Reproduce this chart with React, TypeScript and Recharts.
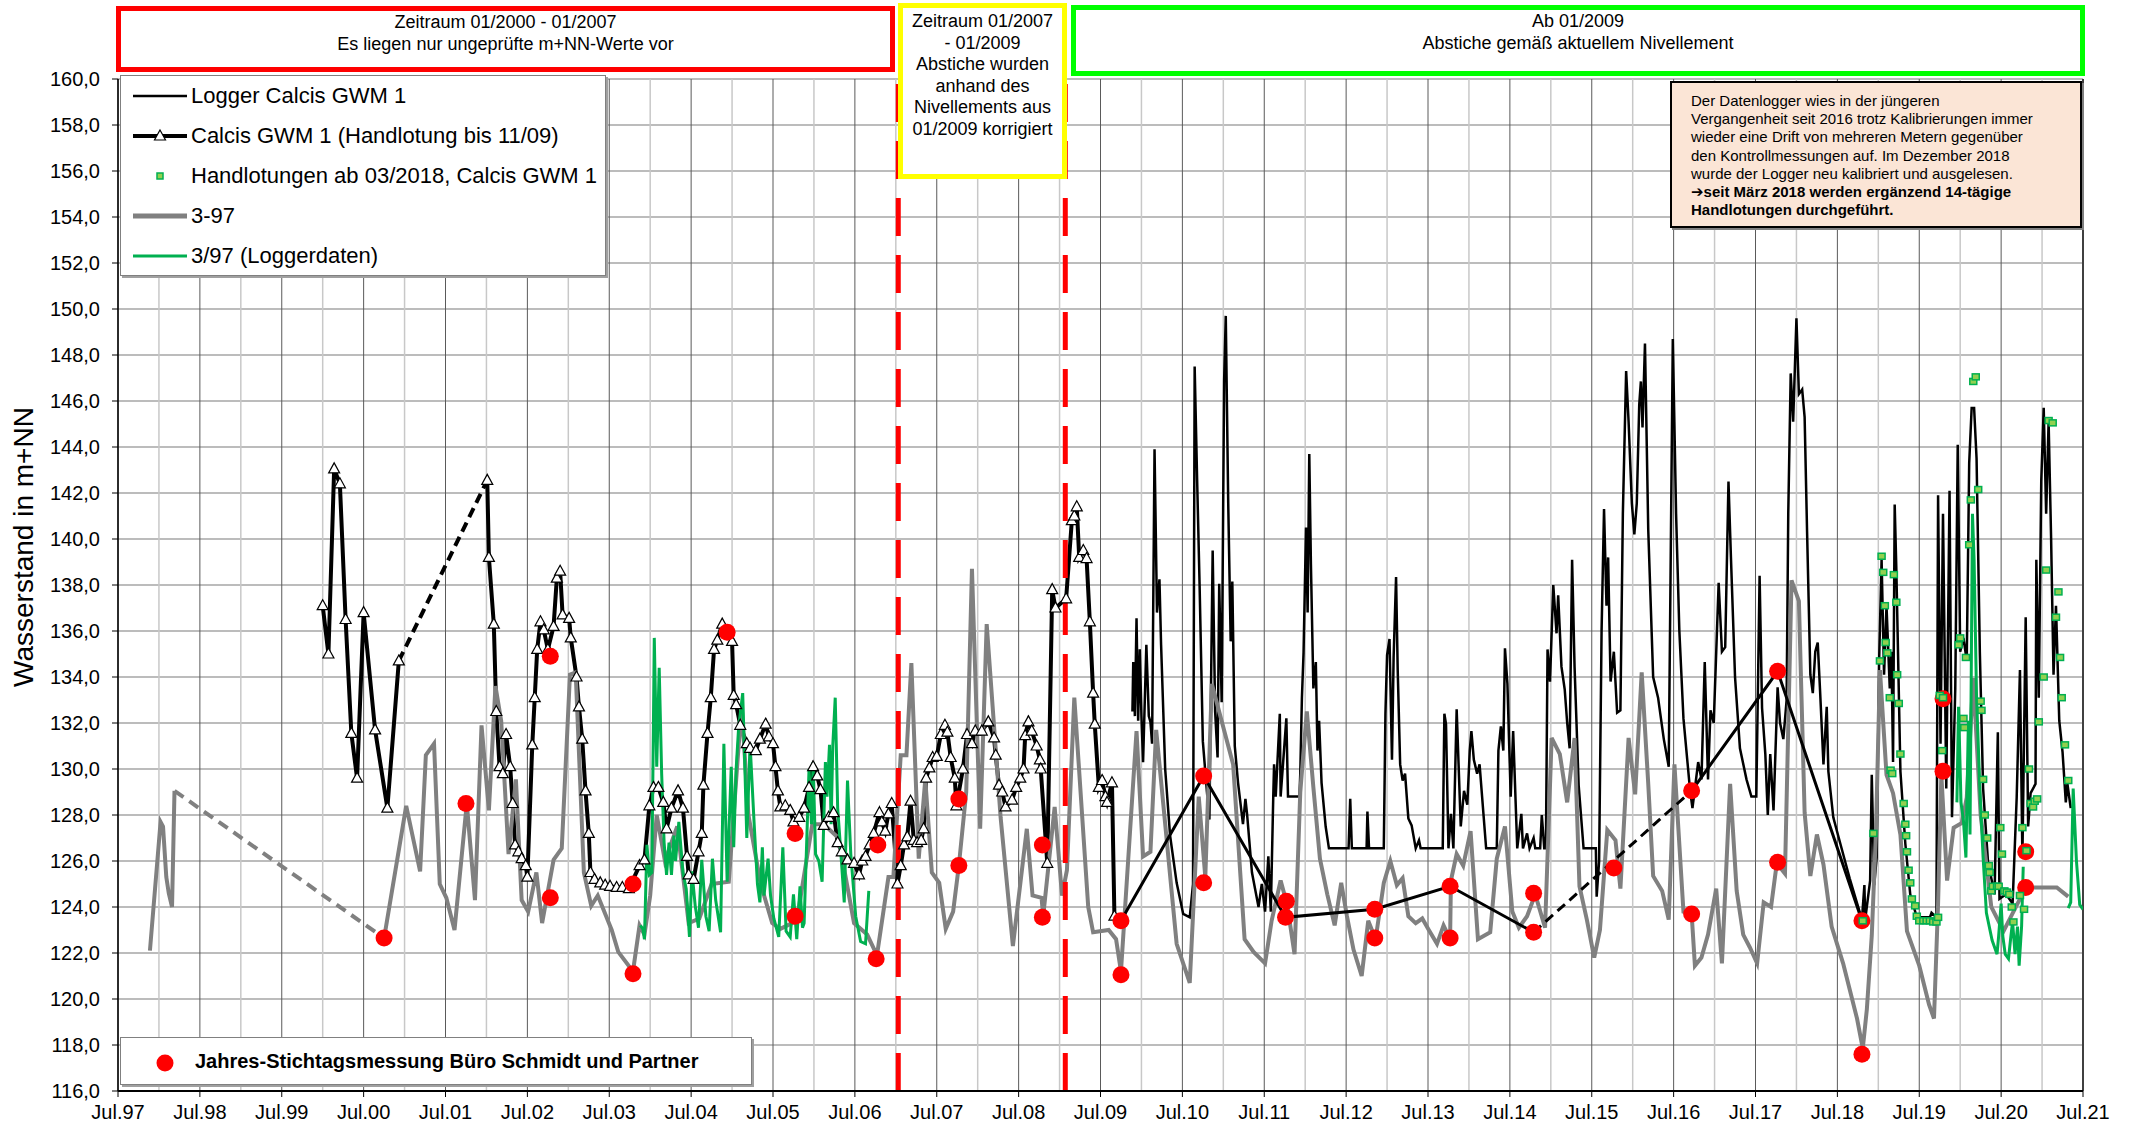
import React from "react";
import { LineChart, Line, XAxis, YAxis, CartesianGrid, ReferenceLine } from "recharts";

type Pt = [number, number];

const FONT = '"Liberation Sans", Arial, Helvetica, sans-serif';
const X_MIN = 1997.5;
const X_MAX = 2021.5;

// axis ticks
const julTicks = [1997.5, 1998.5, 1999.5, 2000.5, 2001.5, 2002.5, 2003.5, 2004.5, 2005.5, 2006.5, 2007.5, 2008.5, 2009.5, 2010.5, 2011.5, 2012.5, 2013.5, 2014.5, 2015.5, 2016.5, 2017.5, 2018.5, 2019.5, 2020.5, 2021.5];
const julLabels = ["Jul.97", "Jul.98", "Jul.99", "Jul.00", "Jul.01", "Jul.02", "Jul.03", "Jul.04", "Jul.05", "Jul.06", "Jul.07", "Jul.08", "Jul.09", "Jul.10", "Jul.11", "Jul.12", "Jul.13", "Jul.14", "Jul.15", "Jul.16", "Jul.17", "Jul.18", "Jul.19", "Jul.20", "Jul.21"];
const janLines = [1998, 1999, 2000, 2001, 2002, 2003, 2004, 2005, 2006, 2007, 2008, 2009, 2010, 2011, 2012, 2013, 2014, 2015, 2016, 2017, 2018, 2019, 2020, 2021];
const yTicks = [116, 118, 120, 122, 124, 126, 128, 130, 132, 134, 136, 138, 140, 142, 144, 146, 148, 150, 152, 154, 156, 158, 160];
const periodBreaks = [2007.03, 2009.07];

// Calcis GWM 1 (Handlotung bis 11/09)
const handA: Pt[] = [[2000.0, 137.1], [2000.07, 135.0], [2000.14, 143.05], [2000.21, 142.4], [2000.28, 136.5], [2000.35, 131.55], [2000.42, 129.6], [2000.5, 136.8], [2000.64, 131.7], [2000.79, 128.3], [2000.93, 134.7]];
const handGap: Pt[] = [[2000.93, 134.7], [2002.01, 142.55]];
const handB: Pt[] = [[2002.01, 142.55], [2002.03, 139.2], [2002.09, 136.3], [2002.12, 132.5], [2002.16, 130.1], [2002.2, 129.8], [2002.24, 131.5], [2002.29, 130.1], [2002.32, 128.5], [2002.35, 126.7], [2002.39, 126.4], [2002.43, 126.1], [2002.48, 125.8], [2002.5, 125.3], [2002.56, 131.05], [2002.59, 133.1], [2002.62, 135.2], [2002.66, 136.4], [2002.7, 136.05], [2002.75, 135.2], [2002.82, 136.2], [2002.86, 138.3], [2002.9, 138.6], [2002.93, 136.7], [2003.01, 136.55], [2003.03, 135.7], [2003.1, 134.0], [2003.13, 132.7], [2003.17, 131.3], [2003.21, 129.05], [2003.25, 127.2], [2003.27, 125.5], [2003.32, 125.2], [2003.39, 125.05], [2003.45, 124.95], [2003.51, 124.9], [2003.59, 124.85], [2003.66, 124.85], [2003.74, 124.8], [2003.87, 125.8], [2003.93, 126.05], [2003.99, 128.4], [2004.04, 129.2], [2004.1, 129.2], [2004.16, 128.55], [2004.2, 127.4], [2004.26, 128.3], [2004.34, 129.05], [2004.4, 128.3], [2004.45, 126.2], [2004.47, 125.4], [2004.53, 125.2], [2004.59, 126.4], [2004.63, 127.2], [2004.65, 129.3], [2004.7, 131.55], [2004.74, 133.1], [2004.78, 135.2], [2004.82, 135.6], [2004.88, 136.3], [2005.0, 135.55], [2005.02, 133.2], [2005.05, 132.8], [2005.1, 131.9], [2005.18, 131.1], [2005.22, 130.9], [2005.29, 130.8], [2005.34, 131.3], [2005.41, 131.95], [2005.45, 131.4], [2005.5, 131.1], [2005.53, 130.1], [2005.56, 129.05], [2005.59, 128.35], [2005.65, 128.4], [2005.71, 128.2], [2005.75, 127.7], [2005.82, 127.9], [2005.88, 128.3], [2005.94, 129.2], [2005.99, 130.1], [2006.04, 129.7], [2006.08, 129.1], [2006.12, 127.55], [2006.18, 127.9], [2006.24, 128.1], [2006.29, 126.8], [2006.34, 126.4], [2006.41, 126.05], [2006.49, 125.9], [2006.55, 125.4], [2006.59, 126.0], [2006.63, 126.2], [2006.68, 126.7], [2006.73, 127.2], [2006.8, 128.1], [2006.83, 127.7], [2006.87, 127.3], [2006.91, 128.05], [2006.95, 128.5], [2007.02, 125.0], [2007.06, 125.8], [2007.1, 126.7], [2007.14, 127.05], [2007.18, 128.6], [2007.22, 126.9], [2007.26, 126.8], [2007.31, 126.9], [2007.34, 127.4], [2007.37, 129.6], [2007.41, 130.05], [2007.45, 130.5], [2007.5, 130.55], [2007.55, 131.5], [2007.6, 131.9], [2007.63, 131.6], [2007.67, 130.5], [2007.72, 129.6], [2007.74, 128.4], [2007.82, 130.0], [2007.87, 131.5], [2007.93, 131.1], [2007.97, 131.65], [2008.05, 131.65], [2008.13, 132.05], [2008.2, 131.35], [2008.22, 130.6], [2008.26, 129.3], [2008.3, 129.0], [2008.34, 128.35], [2008.42, 128.65], [2008.47, 129.2], [2008.52, 129.6], [2008.56, 130.0], [2008.58, 131.45], [2008.62, 132.05], [2008.66, 131.65], [2008.72, 131.0], [2008.76, 130.4], [2008.77, 130.0], [2008.85, 125.9], [2008.91, 137.8], [2008.95, 137.0], [2009.08, 137.4], [2009.15, 140.8], [2009.18, 141.0], [2009.21, 141.4], [2009.24, 139.2], [2009.29, 139.5], [2009.33, 139.15], [2009.37, 136.4], [2009.41, 133.3], [2009.43, 131.95], [2009.48, 129.2], [2009.52, 129.5], [2009.56, 128.8], [2009.58, 128.55], [2009.64, 129.4], [2009.67, 123.6]];

// Logger Calcis GWM 1
const logger: Pt[] = [[2009.89, 132.5], [2009.9, 134.65], [2009.92, 132.3], [2009.94, 136.55], [2009.96, 132.1], [2009.98, 135.2], [2010.0, 132.3], [2010.02, 130.3], [2010.06, 135.4], [2010.09, 132.3], [2010.11, 132.05], [2010.13, 131.1], [2010.16, 143.9], [2010.19, 136.8], [2010.22, 138.25], [2010.24, 135.4], [2010.29, 130.0], [2010.35, 127.1], [2010.43, 125.05], [2010.51, 123.7], [2010.59, 123.55], [2010.63, 125.0], [2010.65, 147.5], [2010.68, 142.6], [2010.71, 138.05], [2010.75, 131.2], [2010.8, 129.0], [2010.83, 127.8], [2010.87, 139.5], [2010.9, 132.5], [2010.93, 130.5], [2010.95, 138.05], [2010.98, 132.9], [2011.01, 146.9], [2011.03, 149.7], [2011.06, 141.55], [2011.09, 135.55], [2011.11, 138.15], [2011.14, 131.0], [2011.18, 129.4], [2011.24, 127.6], [2011.27, 128.7], [2011.29, 128.05], [2011.35, 125.5], [2011.43, 124.0], [2011.47, 125.0], [2011.51, 123.8], [2011.55, 126.2], [2011.58, 123.8], [2011.61, 128.8], [2011.62, 130.2], [2011.64, 128.8], [2011.69, 132.4], [2011.7, 128.8], [2011.77, 132.2], [2011.79, 128.8], [2011.93, 128.8], [2011.94, 129.8], [2011.96, 133.1], [2011.98, 135.05], [2012.01, 140.5], [2012.03, 136.8], [2012.05, 143.7], [2012.07, 138.9], [2012.1, 133.5], [2012.13, 134.65], [2012.15, 130.8], [2012.17, 132.1], [2012.2, 129.4], [2012.25, 127.5], [2012.29, 126.55], [2012.53, 126.55], [2012.55, 128.7], [2012.57, 126.55], [2012.75, 126.55], [2012.76, 128.15], [2012.78, 126.55], [2012.96, 126.55], [2012.98, 132.4], [2013.0, 134.95], [2013.03, 135.65], [2013.06, 130.4], [2013.08, 134.85], [2013.11, 138.35], [2013.13, 134.3], [2013.16, 130.2], [2013.19, 129.5], [2013.22, 129.8], [2013.26, 127.85], [2013.3, 127.55], [2013.35, 126.55], [2013.39, 126.9], [2013.41, 126.55], [2013.68, 126.55], [2013.7, 132.4], [2013.72, 131.95], [2013.75, 126.55], [2013.78, 128.05], [2013.81, 126.55], [2013.85, 132.6], [2013.9, 127.5], [2013.94, 129.05], [2013.98, 128.45], [2014.01, 130.8], [2014.03, 131.65], [2014.06, 130.4], [2014.1, 129.8], [2014.13, 130.2], [2014.21, 126.55], [2014.34, 126.55], [2014.36, 130.8], [2014.39, 131.85], [2014.42, 130.8], [2014.44, 135.25], [2014.47, 133.7], [2014.51, 128.8], [2014.54, 131.65], [2014.59, 126.55], [2014.64, 128.05], [2014.66, 126.55], [2014.71, 127.2], [2014.74, 126.55], [2014.79, 127.0], [2014.81, 126.55], [2014.87, 126.55], [2014.89, 128.0], [2014.92, 126.55], [2014.94, 126.55], [2014.96, 135.2], [2014.99, 133.8], [2015.03, 138.0], [2015.07, 135.9], [2015.09, 137.55], [2015.13, 134.45], [2015.17, 133.45], [2015.2, 132.0], [2015.23, 130.9], [2015.26, 139.1], [2015.29, 134.45], [2015.34, 129.3], [2015.4, 126.55], [2015.55, 126.55], [2015.56, 124.45], [2015.59, 126.0], [2015.62, 136.0], [2015.65, 141.3], [2015.68, 137.1], [2015.7, 139.2], [2015.73, 133.8], [2015.77, 135.1], [2015.81, 132.45], [2015.85, 132.55], [2015.88, 141.1], [2015.92, 147.3], [2015.95, 145.1], [2015.99, 141.55], [2016.02, 140.2], [2016.05, 141.55], [2016.08, 145.85], [2016.1, 146.85], [2016.12, 144.85], [2016.15, 148.5], [2016.19, 140.4], [2016.25, 134.0], [2016.31, 133.1], [2016.38, 131.3], [2016.44, 130.1], [2016.49, 148.7], [2016.53, 141.1], [2016.57, 136.0], [2016.62, 132.2], [2016.7, 129.1], [2016.73, 128.3], [2016.8, 130.3], [2016.84, 129.55], [2016.88, 134.65], [2016.92, 129.55], [2016.95, 132.55], [2016.99, 132.0], [2017.05, 138.1], [2017.09, 135.1], [2017.13, 135.3], [2017.17, 142.5], [2017.2, 139.2], [2017.25, 134.0], [2017.31, 130.9], [2017.39, 129.55], [2017.45, 128.8], [2017.51, 128.8], [2017.55, 138.4], [2017.58, 132.65], [2017.62, 130.65], [2017.65, 128.0], [2017.68, 130.65], [2017.72, 128.2], [2017.77, 133.55], [2017.8, 132.0], [2017.84, 131.3], [2017.88, 133.0], [2017.9, 141.1], [2017.93, 147.2], [2017.96, 145.1], [2018.0, 149.6], [2018.03, 146.3], [2018.07, 146.5], [2018.1, 145.3], [2018.13, 140.3], [2018.17, 134.1], [2018.2, 133.3], [2018.23, 135.1], [2018.26, 135.5], [2018.29, 133.3], [2018.33, 130.2], [2018.37, 132.7], [2018.39, 129.9], [2018.45, 127.9], [2018.51, 127.1], [2018.65, 125.25], [2018.8, 123.45], [2018.83, 124.95], [2018.84, 123.45], [2018.9, 125.15], [2018.92, 129.75], [2018.95, 124.95], [2018.98, 126.15], [2019.01, 134.7], [2019.04, 139.1], [2019.07, 134.1], [2019.1, 137.1], [2019.14, 133.5], [2019.16, 135.1], [2019.18, 130.3], [2019.2, 141.5], [2019.22, 138.7], [2019.27, 129.9], [2019.33, 126.75], [2019.39, 124.55], [2019.47, 123.55], [2019.63, 123.55], [2019.65, 123.75], [2019.71, 123.55], [2019.73, 141.9], [2019.76, 131.1], [2019.79, 141.1], [2019.83, 129.15], [2019.87, 142.1], [2019.9, 127.9], [2019.94, 133.5], [2019.97, 144.1], [2020.0, 135.1], [2020.04, 135.7], [2020.08, 134.7], [2020.11, 143.3], [2020.14, 145.7], [2020.17, 145.7], [2020.2, 143.5], [2020.24, 135.1], [2020.28, 129.15], [2020.34, 125.95], [2020.42, 124.55], [2020.46, 131.6], [2020.48, 124.35], [2020.56, 124.55], [2020.64, 124.15], [2020.69, 128.75], [2020.73, 134.3], [2020.76, 126.15], [2020.8, 136.6], [2020.83, 127.5], [2020.86, 128.95], [2020.92, 129.35], [2020.93, 139.1], [2020.96, 133.1], [2020.99, 142.5], [2021.02, 145.7], [2021.05, 141.1], [2021.08, 145.1], [2021.11, 140.1], [2021.14, 134.1], [2021.17, 137.1], [2021.21, 132.1], [2021.25, 130.75], [2021.29, 128.55], [2021.31, 129.35], [2021.35, 128.3]];

// 3-97
const g397A: Pt[] = [[1997.89, 122.1], [1998.02, 127.7], [1998.05, 127.5], [1998.09, 125.3], [1998.12, 124.6], [1998.16, 124.0], [1998.19, 129.05]];
const g397Gap: Pt[] = [[1998.19, 129.05], [2000.75, 122.65]];
const g397B: Pt[] = [[2000.75, 122.65], [2001.02, 128.4], [2001.19, 125.55], [2001.26, 130.6], [2001.36, 131.1], [2001.43, 125.0], [2001.51, 124.4], [2001.61, 123.0], [2001.76, 128.5], [2001.86, 124.3], [2001.94, 131.9], [2002.03, 128.2], [2002.11, 133.6], [2002.18, 132.1], [2002.27, 126.3], [2002.36, 129.55], [2002.43, 124.3], [2002.51, 123.8], [2002.61, 125.5], [2002.68, 123.3], [2002.82, 126.05], [2002.92, 126.55], [2003.02, 134.1], [2003.09, 134.2], [2003.19, 125.5], [2003.28, 124.05], [2003.36, 124.5], [2003.53, 123.0], [2003.61, 122.05], [2003.79, 121.2], [2003.87, 123.2], [2003.93, 122.8], [2004.0, 124.5], [2004.08, 128.0], [2004.18, 126.0], [2004.33, 127.5], [2004.47, 123.3], [2004.6, 123.5], [2004.75, 125.0], [2004.96, 125.1], [2005.08, 131.0], [2005.12, 132.6], [2005.2, 128.0], [2005.35, 125.0], [2005.49, 123.3], [2005.59, 123.05], [2005.79, 123.4], [2005.98, 127.6], [2006.12, 127.6], [2006.3, 127.0], [2006.49, 123.3], [2006.65, 122.8], [2006.77, 121.9], [2006.91, 125.3], [2006.97, 125.3], [2007.06, 130.6], [2007.13, 130.6], [2007.19, 134.6], [2007.28, 126.1], [2007.36, 129.55], [2007.44, 125.5], [2007.53, 125.05], [2007.61, 123.05], [2007.7, 123.8], [2007.77, 125.8], [2007.86, 129.0], [2007.93, 138.7], [2008.03, 127.4], [2008.11, 136.3], [2008.28, 127.9], [2008.43, 122.3], [2008.6, 127.4], [2008.67, 124.5], [2008.78, 124.4], [2008.8, 123.6], [2008.94, 128.35], [2009.03, 124.5], [2009.09, 125.6], [2009.18, 133.1], [2009.35, 124.0], [2009.41, 122.9], [2009.6, 123.0], [2009.69, 122.6], [2009.75, 121.2], [2009.94, 131.65], [2010.02, 126.2], [2010.11, 126.4], [2010.18, 131.7], [2010.43, 122.4], [2010.59, 120.7], [2010.7, 128.8], [2010.78, 125.3], [2010.86, 133.7], [2011.12, 130.2], [2011.26, 122.6], [2011.37, 122.05], [2011.51, 121.55], [2011.59, 123.4], [2011.7, 125.15], [2011.78, 124.1], [2011.87, 121.95], [2011.94, 129.0], [2012.02, 132.5], [2012.1, 129.2], [2012.18, 126.1], [2012.27, 124.55], [2012.36, 123.2], [2012.44, 125.05], [2012.51, 123.6], [2012.59, 122.15], [2012.69, 121.0], [2012.77, 123.4], [2012.86, 122.6], [2012.96, 125.05], [2013.04, 126.0], [2013.12, 124.95], [2013.19, 125.25], [2013.26, 123.6], [2013.35, 123.3], [2013.43, 123.5], [2013.51, 123.0], [2013.61, 122.4], [2013.69, 123.2], [2013.77, 122.6], [2013.78, 125.15], [2013.85, 126.3], [2013.93, 125.8], [2014.02, 127.3], [2014.11, 122.6], [2014.26, 122.9], [2014.34, 126.1], [2014.44, 127.5], [2014.53, 123.8], [2014.61, 123.1], [2014.71, 123.6], [2014.81, 124.55], [2014.93, 123.1], [2015.01, 131.35], [2015.11, 130.65], [2015.2, 128.55], [2015.29, 131.35], [2015.35, 124.9], [2015.44, 123.45], [2015.53, 121.8], [2015.6, 123.0], [2015.69, 127.35], [2015.79, 126.9], [2015.85, 124.8], [2015.95, 131.35], [2016.03, 128.9], [2016.11, 134.2], [2016.19, 129.35], [2016.25, 125.35], [2016.36, 124.7], [2016.44, 123.45], [2016.51, 130.2], [2016.62, 123.8], [2016.72, 123.7], [2016.76, 121.45], [2016.84, 121.8], [2016.92, 122.8], [2017.02, 124.8], [2017.09, 121.55], [2017.19, 129.35], [2017.27, 124.7], [2017.35, 122.8], [2017.43, 122.25], [2017.52, 121.55], [2017.6, 124.2], [2017.69, 124.0], [2017.76, 125.9], [2017.86, 125.45], [2017.94, 138.2], [2018.03, 137.3], [2018.1, 128.1], [2018.17, 125.35], [2018.25, 127.15], [2018.33, 125.85], [2018.43, 123.15], [2018.57, 121.55], [2018.74, 119.15], [2018.81, 117.85], [2018.86, 119.55], [2018.92, 122.75], [2018.97, 127.15], [2019.02, 134.3], [2019.1, 129.75], [2019.18, 128.95], [2019.27, 127.15], [2019.35, 122.95], [2019.5, 121.45], [2019.62, 119.75], [2019.68, 119.15], [2019.73, 124.15], [2019.77, 129.75], [2019.84, 125.15], [2019.92, 127.45], [2020.02, 127.65], [2020.08, 128.75], [2020.16, 133.95], [2020.25, 128.0], [2020.38, 124.0], [2020.53, 122.95], [2020.73, 124.35], [2020.81, 124.85], [2021.18, 124.85], [2021.32, 124.45]];

// 3/97 (Loggerdaten)
const gLogA: Pt[] = [[2003.88, 123.2], [2003.91, 123.05], [2003.93, 122.6], [2003.96, 126.7], [2003.99, 125.4], [2004.02, 125.5], [2004.04, 132.1], [2004.05, 135.7], [2004.08, 130.1], [2004.11, 134.4], [2004.14, 129.8], [2004.17, 126.8], [2004.2, 125.4], [2004.23, 126.8], [2004.26, 125.4], [2004.29, 127.1], [2004.31, 126.0], [2004.35, 127.7], [2004.4, 125.5], [2004.44, 124.8], [2004.48, 122.7], [2004.51, 125.55], [2004.55, 124.05], [2004.59, 123.1], [2004.63, 126.05], [2004.68, 123.6], [2004.72, 122.95], [2004.76, 126.1], [2004.8, 124.3], [2004.86, 122.9], [2004.9, 131.1], [2004.94, 125.1], [2004.99, 130.1], [2005.02, 126.6], [2005.05, 130.0], [2005.08, 131.8], [2005.13, 133.3], [2005.16, 129.6], [2005.18, 127.0], [2005.22, 131.1], [2005.27, 127.6], [2005.31, 125.0], [2005.34, 124.2], [2005.37, 126.6], [2005.39, 124.5], [2005.44, 126.1], [2005.47, 124.5], [2005.51, 123.5], [2005.57, 122.7], [2005.62, 126.6], [2005.66, 122.95], [2005.71, 122.7], [2005.75, 124.55], [2005.79, 122.6], [2005.83, 124.9], [2005.86, 123.1], [2005.88, 123.3], [2005.94, 130.0], [2005.97, 127.6], [2005.99, 130.3], [2006.02, 126.3], [2006.06, 126.0], [2006.1, 125.1], [2006.14, 130.3], [2006.16, 128.8], [2006.19, 131.05], [2006.21, 127.6], [2006.23, 131.0], [2006.26, 133.1], [2006.29, 128.3], [2006.32, 126.8], [2006.37, 124.2], [2006.41, 129.5], [2006.45, 126.3], [2006.51, 123.6], [2006.57, 122.5], [2006.63, 122.4], [2006.67, 124.7]];
const gLogB: Pt[] = [[2019.96, 128.55], [2019.98, 132.7], [2020.01, 128.55], [2020.04, 127.75], [2020.07, 126.15], [2020.1, 132.1], [2020.12, 127.15], [2020.15, 141.1], [2020.17, 139.1], [2020.2, 133.1], [2020.24, 129.15], [2020.28, 126.15], [2020.32, 123.75], [2020.39, 122.55], [2020.45, 121.95], [2020.47, 122.75], [2020.5, 124.15], [2020.52, 122.75], [2020.55, 121.95], [2020.59, 121.75], [2020.62, 122.75], [2020.64, 123.35], [2020.67, 121.95], [2020.7, 123.15], [2020.72, 121.45], [2020.75, 123.15], [2020.77, 125.75]];
const gLogC: Pt[] = [[2021.32, 123.95], [2021.35, 124.2], [2021.38, 129.15], [2021.42, 126.0], [2021.46, 124.1], [2021.5, 123.9]];

// Handlotungen ab 03/2018
const handNeu: Pt[] = [[2018.81, 123.4], [2018.94, 127.2], [2019.02, 134.7], [2019.04, 139.25], [2019.06, 138.55], [2019.08, 137.1], [2019.09, 135.5], [2019.11, 135.05], [2019.14, 133.1], [2019.15, 129.95], [2019.17, 129.8], [2019.19, 138.45], [2019.22, 137.25], [2019.23, 134.1], [2019.25, 132.85], [2019.27, 130.65], [2019.31, 128.5], [2019.33, 127.6], [2019.34, 127.1], [2019.35, 126.4], [2019.37, 125.6], [2019.39, 125.05], [2019.41, 124.35], [2019.45, 124.05], [2019.47, 123.6], [2019.5, 123.4], [2019.55, 123.4], [2019.59, 123.4], [2019.63, 123.4], [2019.67, 123.35], [2019.71, 123.35], [2019.73, 123.55], [2019.75, 133.2], [2019.78, 130.8], [2019.79, 133.1], [2019.98, 135.4], [2020.0, 135.7], [2020.04, 132.2], [2020.05, 131.8], [2020.07, 134.85], [2020.11, 139.75], [2020.13, 141.7], [2020.16, 146.85], [2020.19, 147.05], [2020.22, 142.15], [2020.25, 132.95], [2020.26, 132.55], [2020.28, 129.55], [2020.3, 128.0], [2020.33, 127.0], [2020.35, 125.8], [2020.36, 125.5], [2020.38, 124.7], [2020.4, 124.9], [2020.45, 124.9], [2020.47, 124.9], [2020.49, 127.45], [2020.51, 126.3], [2020.54, 124.7], [2020.57, 124.65], [2020.6, 124.55], [2020.63, 124.0], [2020.65, 123.35], [2020.73, 124.5], [2020.76, 127.45], [2020.78, 123.9], [2020.81, 126.45], [2020.84, 130.0], [2020.86, 128.5], [2020.89, 128.35], [2020.91, 128.6], [2020.94, 128.7], [2020.96, 132.05], [2021.02, 134.0], [2021.05, 138.65], [2021.08, 145.15], [2021.13, 145.05], [2021.17, 136.6], [2021.2, 137.7], [2021.22, 134.85], [2021.24, 133.1], [2021.28, 131.05], [2021.32, 129.5]];

// Jahres-Stichtagsmessung Büro Schmidt und Partner
const stichtag: Pt[] = [[2000.75, 122.65], [2001.75, 128.5], [2002.78, 134.9], [2002.78, 124.4], [2003.79, 125.0], [2003.79, 121.1], [2004.94, 135.95], [2005.77, 127.2], [2005.77, 123.6], [2006.78, 126.7], [2006.76, 121.75], [2007.77, 128.7], [2007.77, 125.8], [2008.79, 126.7], [2008.79, 123.55], [2009.75, 123.4], [2009.75, 121.05], [2010.76, 129.7], [2010.76, 125.05], [2011.77, 124.25], [2011.76, 123.55], [2012.85, 123.9], [2012.85, 122.65], [2013.77, 124.9], [2013.77, 122.65], [2014.79, 124.6], [2014.79, 122.9], [2015.77, 125.7], [2016.72, 129.05], [2016.72, 123.7], [2017.77, 134.25], [2017.77, 125.95], [2018.8, 123.4], [2018.8, 117.6], [2019.79, 133.05], [2019.79, 129.9], [2020.8, 126.4], [2020.8, 124.85]];

// GWM 1 Stichtage verbunden
const stichLinieA: Pt[] = [[2009.75, 123.4], [2010.76, 129.7], [2011.76, 123.55], [2012.85, 123.9], [2013.77, 124.9], [2014.79, 122.9]];
const stichLinieGap: Pt[] = [[2014.79, 122.9], [2016.72, 129.05]];
const stichLinieB: Pt[] = [[2016.72, 129.05], [2017.77, 134.25], [2018.8, 123.4]];

const toRows = (pts: Pt[]) => pts.map(([x, y]) => ({ x, y }));

const triangleDot = (p: any) => {
  const { cx, cy, index } = p;
  if (cx == null || cy == null) return <g key={index} />;
  return <path key={index} d={`M${cx},${cy - 6}L${cx + 5.5},${cy + 4}L${cx - 5.5},${cy + 4}Z`} fill="#fff" stroke="#000" strokeWidth={1.2} />;
};
const redDot = (p: any) => {
  const { cx, cy, index } = p;
  if (cx == null || cy == null) return <g key={index} />;
  return <circle key={index} cx={cx} cy={cy} r={8.5} fill="#ff0000" />;
};
const squareDot = (p: any) => {
  const { cx, cy, index } = p;
  if (cx == null || cy == null) return <g key={index} />;
  return <rect key={index} x={cx - 3.5} y={cy - 3} width={7} height={6} fill="#92d050" stroke="#00b050" strokeWidth={1.5} />;
};

const headerBox = (left: number, top: number, width: number, height: number, color: string): React.CSSProperties => ({
  position: "absolute", left, top, width, height, boxSizing: "border-box",
  border: `5px solid ${color}`, background: "#fff", textAlign: "center",
  fontSize: 18, lineHeight: "22px", color: "#000",
});

function LegendIcon({ kind }: { kind: string }) {
  return (
    <svg width={60} height={20} style={{ position: "absolute", left: 12, top: 10 }}>
      {kind === "logger" && <line x1={0} y1={10} x2={54} y2={10} stroke="#000" strokeWidth={2.5} />}
      {kind === "hand" && <>
        <line x1={0} y1={10} x2={54} y2={10} stroke="#000" strokeWidth={4} />
        <path d="M27,4L32.5,14L21.5,14Z" fill="#fff" stroke="#000" strokeWidth={1.2} />
      </>}
      {kind === "neu" && <rect x={24} y={7} width={6} height={6} fill="#92d050" stroke="#00b050" strokeWidth={1.5} />}
      {kind === "g397" && <line x1={0} y1={10} x2={54} y2={10} stroke="#808080" strokeWidth={5} />}
      {kind === "glog" && <line x1={0} y1={10} x2={54} y2={10} stroke="#00b050" strokeWidth={3} />}
    </svg>
  );
}

const legendRows = [
  { kind: "logger", label: "Logger Calcis GWM 1" },
  { kind: "hand", label: "Calcis GWM 1 (Handlotung bis 11/09)" },
  { kind: "neu", label: "Handlotungen ab 03/2018, Calcis GWM 1" },
  { kind: "g397", label: "3-97" },
  { kind: "glog", label: "3/97 (Loggerdaten)" },
];

export default function App() {
  const tickStyle = { fill: "#000", fontSize: 20, fontFamily: FONT };
  return (
    <div style={{ position: "absolute", left: 0, top: 0, width: 2131, height: 1129, background: "#fff", fontFamily: FONT }}>
      <LineChart width={2131} height={1129} margin={{ top: 79, right: 48, bottom: 8, left: 8 }}>
        <CartesianGrid vertical={false} stroke="#a6a6a6" strokeWidth={1.5} />
        <CartesianGrid horizontal={false} verticalValues={janLines} stroke="#c8c8c8" strokeWidth={1.5} />
        <CartesianGrid horizontal={false} verticalValues={julTicks} stroke="#5a5a5a" strokeWidth={1} />
        <XAxis
          type="number"
          dataKey="x"
          domain={[X_MIN, X_MAX]}
          allowDataOverflow
          ticks={julTicks}
          interval={0}
          tickFormatter={(v: number) => julLabels[julTicks.indexOf(v)] ?? ""}
          tick={tickStyle}
          tickSize={6}
          tickMargin={8}
          height={30}
          stroke="#000"
          axisLine={{ stroke: "#000", strokeWidth: 2 }}
        />
        <YAxis
          type="number"
          domain={[116, 160]}
          ticks={yTicks}
          interval={0}
          tickFormatter={(v: number) => v.toFixed(1).replace(".", ",")}
          tick={tickStyle}
          tickSize={6}
          tickMargin={12}
          width={110}
          stroke="#000"
          axisLine={{ stroke: "#000", strokeWidth: 1.5 }}
        />
        <ReferenceLine x={X_MAX} stroke="#404040" strokeWidth={2} />

        <Line data={toRows(handA)} dataKey="y" stroke="#000" strokeWidth={4} dot={triangleDot} activeDot={false} isAnimationActive={false} />
        <Line data={toRows(handGap)} dataKey="y" stroke="#000" strokeWidth={4} strokeDasharray="10 6" dot={false} activeDot={false} isAnimationActive={false} />
        <Line data={toRows(handB)} dataKey="y" stroke="#000" strokeWidth={4} dot={triangleDot} activeDot={false} isAnimationActive={false} />
        <Line data={toRows(logger)} dataKey="y" stroke="#000" strokeWidth={2.5} dot={false} activeDot={false} isAnimationActive={false} />
        <Line data={toRows(g397A)} dataKey="y" stroke="#808080" strokeWidth={4} dot={false} activeDot={false} isAnimationActive={false} />
        <Line data={toRows(g397Gap)} dataKey="y" stroke="#808080" strokeWidth={4} strokeDasharray="11 7" dot={false} activeDot={false} isAnimationActive={false} />
        <Line data={toRows(g397B)} dataKey="y" stroke="#808080" strokeWidth={4} dot={false} activeDot={false} isAnimationActive={false} />
        <Line data={toRows(gLogA)} dataKey="y" stroke="#00b050" strokeWidth={3} dot={false} activeDot={false} isAnimationActive={false} />
        <Line data={toRows(gLogB)} dataKey="y" stroke="#00b050" strokeWidth={3} dot={false} activeDot={false} isAnimationActive={false} />
        <Line data={toRows(gLogC)} dataKey="y" stroke="#00b050" strokeWidth={3} dot={false} activeDot={false} isAnimationActive={false} />
        <Line data={toRows(stichLinieA)} dataKey="y" stroke="#000" strokeWidth={3} dot={false} activeDot={false} isAnimationActive={false} />
        <Line data={toRows(stichLinieGap)} dataKey="y" stroke="#000" strokeWidth={3} strokeDasharray="10 6" dot={false} activeDot={false} isAnimationActive={false} />
        <Line data={toRows(stichLinieB)} dataKey="y" stroke="#000" strokeWidth={3} dot={false} activeDot={false} isAnimationActive={false} />
        <Line data={toRows(stichtag)} dataKey="y" stroke="none" dot={redDot} activeDot={false} isAnimationActive={false} />
        <Line data={toRows(handNeu)} dataKey="y" stroke="none" dot={squareDot} activeDot={false} isAnimationActive={false} />

        {periodBreaks.map((v) => (
          <ReferenceLine key={v} x={v} stroke="#ff0000" strokeWidth={5} strokeDasharray="38 19" />
        ))}
      </LineChart>

      {/* axis title */}
      <div style={{ position: "absolute", left: 24, top: 547, transform: "translate(-50%, -50%) rotate(-90deg)", whiteSpace: "nowrap", fontSize: 28, color: "#000" }}>
        Wasserstand in m+NN
      </div>

      {/* period boxes */}
      <div style={headerBox(116, 6, 779, 66, "#ff0000")}>
        Zeitraum 01/2000 - 01/2007<br />Es liegen nur ungeprüfte m+NN-Werte vor
      </div>
      <div style={{ ...headerBox(898, 3, 169, 176, "#ffff00"), lineHeight: "21.5px", paddingTop: 3 }}>
        Zeitraum 01/2007<br />- 01/2009<br />Abstiche wurden<br />anhand des<br />Nivellements aus<br />01/2009 korrigiert
      </div>
      <div style={headerBox(1071, 5, 1014, 71, "#00ff00")}>
        Ab 01/2009<br />Abstiche gemäß aktuellem Nivellement
      </div>

      {/* series legend */}
      <div style={{ position: "absolute", left: 120, top: 75, width: 486, height: 201, boxSizing: "border-box", background: "#fff", border: "1px solid #808080", boxShadow: "2px 2px 0 #a0a0a0" }}>
        {legendRows.map((r, i) => (
          <div key={r.kind} style={{ position: "absolute", left: 0, top: i * 40, width: "100%", height: 40 }}>
            <LegendIcon kind={r.kind} />
            <span style={{ position: "absolute", left: 70, top: 7, fontSize: 22, lineHeight: "26px", whiteSpace: "nowrap" }}>{r.label}</span>
          </div>
        ))}
      </div>

      {/* note */}
      <div style={{ position: "absolute", left: 1670, top: 81, width: 412, height: 147, boxSizing: "border-box", background: "#fbe5d6", border: "2px solid #000", boxShadow: "2px 2px 0 #808080", padding: "9px 0 0 19px", fontSize: 15, lineHeight: "18.2px", color: "#000" }}>
        Der Datenlogger wies in der jüngeren<br />
        Vergangenheit seit 2016 trotz Kalibrierungen immer<br />
        wieder eine Drift von mehreren Metern gegenüber<br />
        den Kontrollmessungen auf. Im Dezember 2018<br />
        wurde der Logger neu kalibriert und ausgelesen.<br />
        <b><span style={{ fontFamily: '"DejaVu Sans", sans-serif' }}>➔</span>seit März 2018 werden ergänzend 14-tägige<br />Handlotungen durchgeführt.</b>
      </div>

      {/* Stichtag legend */}
      <div style={{ position: "absolute", left: 120, top: 1037, width: 632, height: 48, boxSizing: "border-box", background: "#fff", border: "1px solid #808080", boxShadow: "2px 2px 0 #a0a0a0" }}>
        <svg width={20} height={20} style={{ position: "absolute", left: 34, top: 15 }}>
          <circle cx={10} cy={10} r={8.5} fill="#ff0000" />
        </svg>
        <span style={{ position: "absolute", left: 74, top: 11, fontSize: 20, fontWeight: "bold", lineHeight: "24px", whiteSpace: "nowrap" }}>
          Jahres-Stichtagsmessung Büro Schmidt und Partner
        </span>
      </div>
    </div>
  );
}
